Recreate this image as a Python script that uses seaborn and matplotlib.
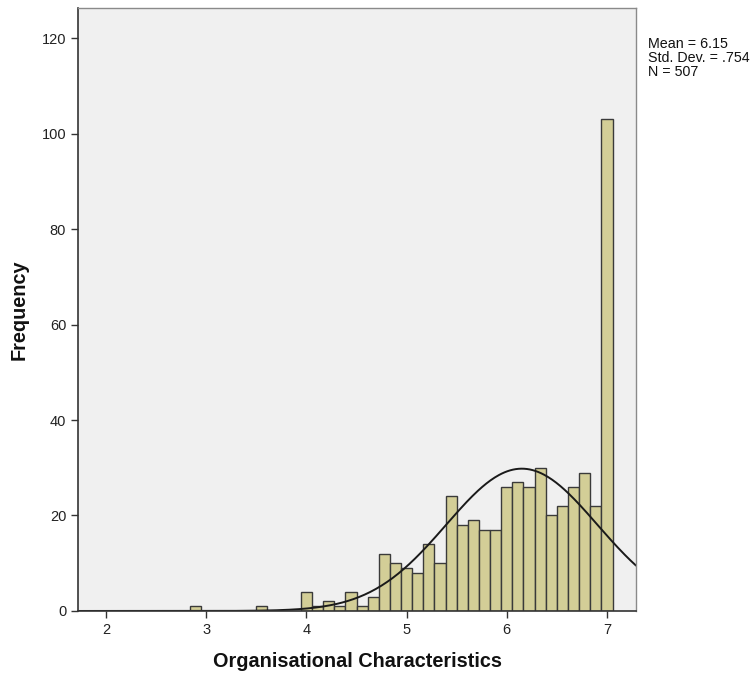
import numpy as np
import pandas as pd
import seaborn as sns
import matplotlib
matplotlib.use("Agg")
import matplotlib.pyplot as plt

# Bin centres (score values) and frequency counts
bin_centers = [2.889, 3.556, 4.000, 4.111, 4.222, 4.333, 4.444, 4.556, 4.667,
               4.778, 4.889, 5.000, 5.111, 5.222, 5.333, 5.444, 5.556, 5.667,
               5.778, 5.889, 6.000, 6.111, 6.222, 6.333, 6.444, 6.556, 6.667,
               6.778, 6.889, 7.000]
counts = [1, 1, 4, 1, 2, 1, 4, 1, 3,
          12, 10, 9, 8, 14, 10, 24, 18, 19,
          17, 17, 26, 27, 26, 30, 20, 22, 26,
          29, 22, 103]
x_ticks = [2, 3, 4, 5, 6, 7]
y_ticks = [0, 20, 40, 60, 80, 100, 120]
stat_mean = 6.15
stat_sd = 0.754
stat_n = 507
x_label = "Organisational Characteristics"
y_label = "Frequency"

sns.set_theme(style="white")
plt.rcParams['font.family'] = ['Liberation Sans', 'DejaVu Sans']

df = pd.DataFrame({"score": bin_centers, "count": counts})
bw = 1 / 9
lo = 7.0 + bw / 2 - 40 * bw
hi = 7.0 + bw / 2

fig = plt.figure(figsize=(7.55, 6.79), dpi=100)
ax = fig.add_axes([0.1033, 0.1002, 0.7391, 0.888])
ax.set_facecolor("#F0F0F0")

sns.histplot(data=df, x="score", weights="count", binwidth=bw, binrange=(lo, hi),
             ax=ax, color="#D3CE97", alpha=1.0, edgecolor="#3A3A3A", linewidth=1.0)

xs = np.linspace(1.72, 7.29, 400)
pdf = stat_n * bw / (stat_sd * np.sqrt(2 * np.pi)) * np.exp(-0.5 * ((xs - stat_mean) / stat_sd) ** 2)
sns.lineplot(x=xs, y=pdf, ax=ax, color="#1a1a1a", linewidth=1.4)

ax.set_xlim(1.72, 7.29)
ax.set_ylim(0, 126.3)
ax.set_xticks(x_ticks)
ax.set_xticklabels([str(t) for t in x_ticks])
ax.set_yticks(y_ticks)
ax.set_yticklabels([str(t) for t in y_ticks])
ax.tick_params(axis="both", direction="out", length=5, width=1, colors="#333333",
               labelsize=10.5, labelcolor="#222222", bottom=True, left=True)
for s in ["left", "bottom"]:
    ax.spines[s].set_color("#333333")
    ax.spines[s].set_linewidth(1.2)
for s in ["top", "right"]:
    ax.spines[s].set_color("#8a8a8a")
    ax.spines[s].set_linewidth(1.0)

ax.set_xlabel(x_label, fontsize=14.3, fontweight="bold", labelpad=11, color="#111111")
ax.set_ylabel(y_label, fontsize=14.3, fontweight="bold", labelpad=9, color="#111111")

fig.text(0.858, 0.945, f"Mean = {stat_mean:.2f}\nStd. Dev. = .754\nN = {stat_n}",
         fontsize=10.3, va="top", ha="left", color="#111111", linespacing=0.98)

fig.savefig("out.png", dpi=100)
